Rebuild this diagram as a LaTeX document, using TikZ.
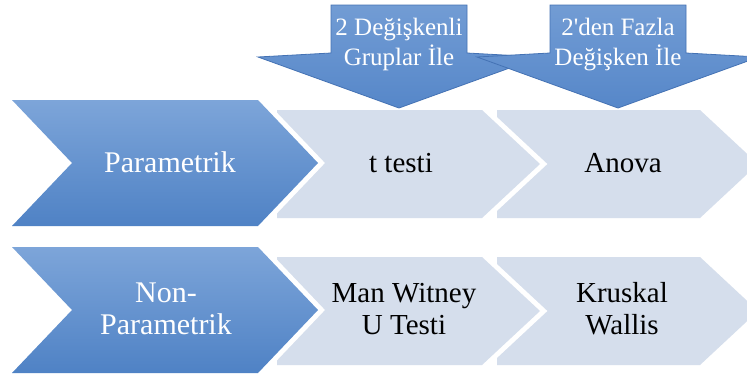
\documentclass[tikz,border=0pt]{standalone}
\usepackage{fontspec}
\setmainfont{Liberation Serif}
\definecolor{dtop}{HTML}{7DA5D9}
\definecolor{dbot}{HTML}{4F82C5}
\definecolor{lfill}{HTML}{D5DEEC}
\definecolor{atop}{HTML}{729CD4}
\definecolor{abot}{HTML}{5687C9}
\definecolor{aline}{HTML}{4472B4}
\begin{document}
\begin{tikzpicture}[x=1pt,y=-1pt,
  halo/.style={preaction={draw=white,line width=10pt,line join=miter}},
  darkchev/.style={halo, top color=dtop, bottom color=dbot},
  lightchev/.style={halo, fill=lfill},
  downarr/.style={draw=aline, line width=0.8pt, top color=atop, bottom color=abot, line join=miter},
  wlabel/.style={text=white, font=\fontsize{30}{32}\selectfont, align=center, anchor=base, inner sep=0pt},
  blabel/.style={text=black, font=\fontsize{29}{32}\selectfont, align=center, anchor=base, inner sep=0pt},
  alabel/.style={text=white, font=\fontsize{25}{30}\selectfont, align=center, anchor=base, inner sep=0pt}]
\useasboundingbox (0,0) rectangle (747,378);
\fill[white] (0,0) rectangle (747,378);
% row 1
\path[lightchev] (497,110) -- (700,110) -- (758,164) -- (700,218) -- (497,218) -- cycle;
\path[lightchev] (277,110) -- (482,110) -- (540,164) -- (482,218) -- (277,218) -- cycle;
\path[darkchev] (12,100) -- (258,100) -- (318,163) -- (258,226) -- (12,226) -- (72,163) -- cycle;
% row 2
\path[lightchev] (497,257) -- (700,257) -- (758,311) -- (700,365) -- (497,365) -- cycle;
\path[lightchev] (277,257) -- (482,257) -- (540,311) -- (482,365) -- (277,365) -- cycle;
\path[darkchev] (12,247) -- (258,247) -- (318,310) -- (258,373) -- (12,373) -- (72,310) -- cycle;
% down arrows
\path[downarr] (331,5) -- (467,5) -- (467,53) -- (540,57) -- (399,108) -- (258,57) -- (331,53) -- cycle;
\path[downarr] (550,5) -- (686,5) -- (686,53) -- (759,57) -- (618,108) -- (477,57) -- (550,53) -- cycle;
% labels (anchor base = baseline of last line)
\node[alabel] (a1) at (399,65) {2 Değişkenli\\Gruplar İle};
\node[alabel] (a2) at (618,65) {2\textquotesingle den Fazla\\Değişken İle};
\node[wlabel] (p1) at (170,172) {Parametrik};
\node[blabel] (t1) at (401,172) {t testi};
\node[blabel] (an) at (623,172) {Anova};
\node[wlabel] (p2) at (166,334) {Non-\\Parametrik};
\node[blabel] (mw) at (404,334) {Man Witney\\U Testi};
\node[blabel] (kw) at (622,334) {Kruskal\\Wallis};
\end{tikzpicture}
\end{document}
